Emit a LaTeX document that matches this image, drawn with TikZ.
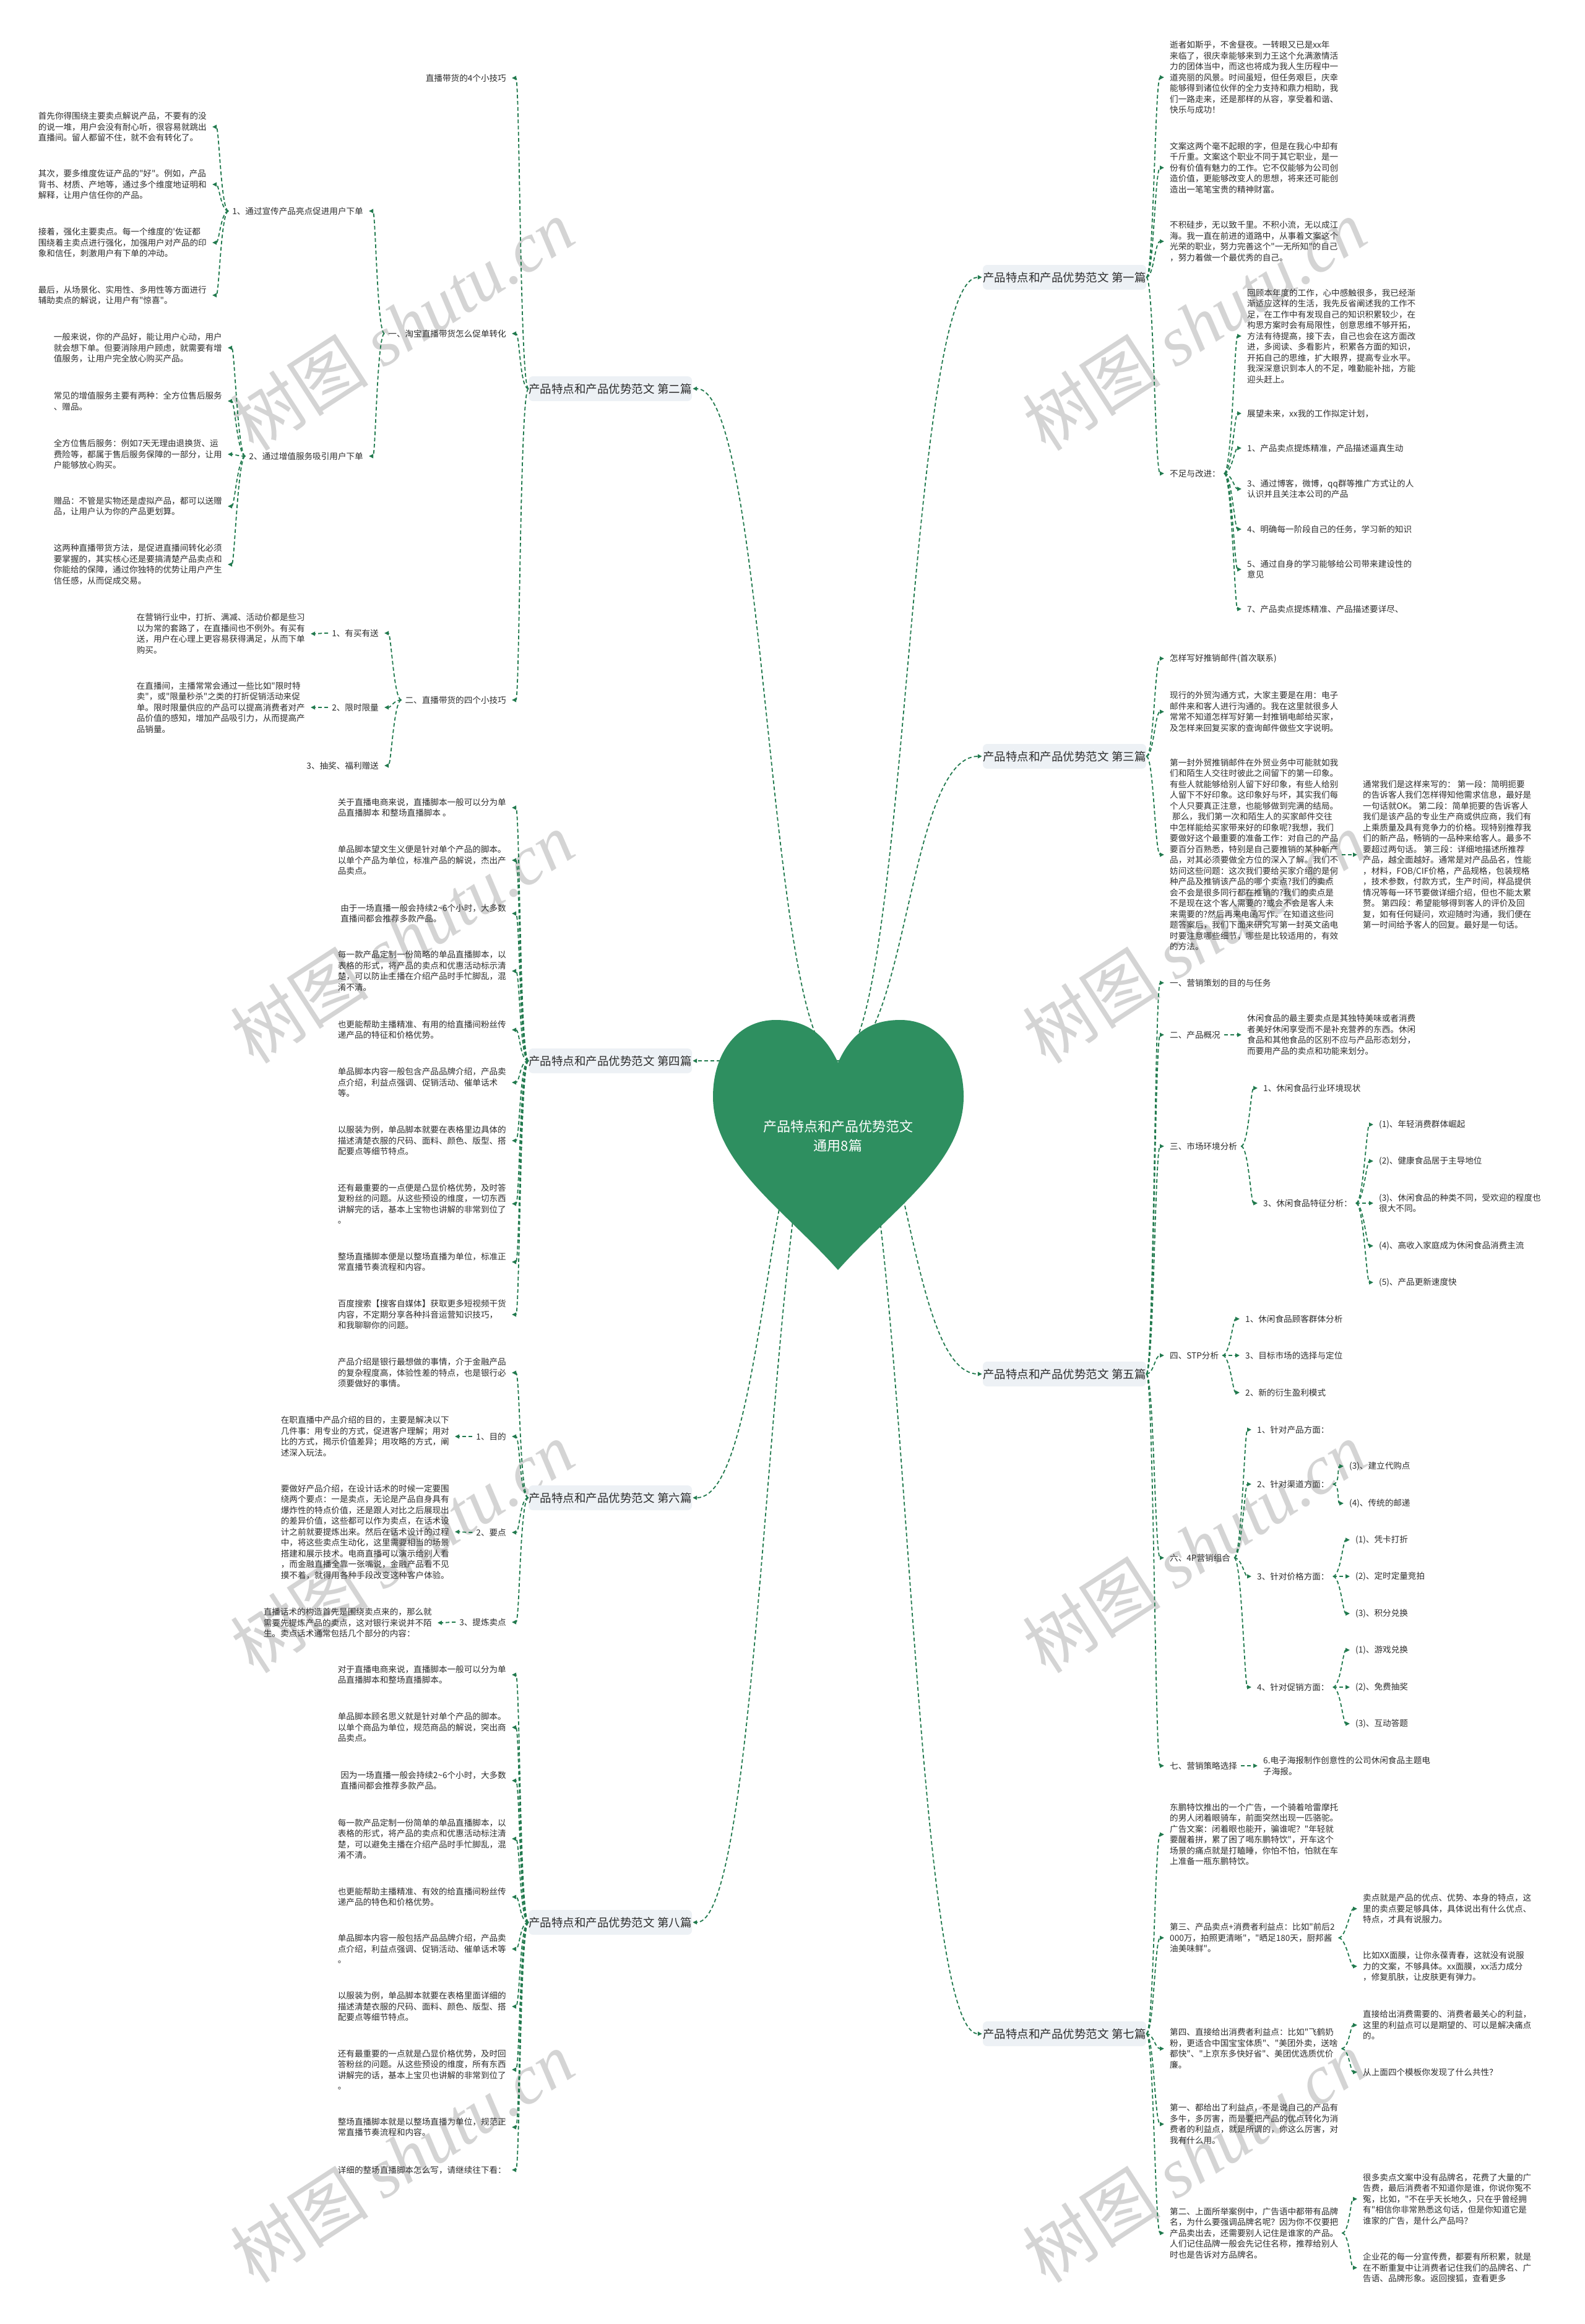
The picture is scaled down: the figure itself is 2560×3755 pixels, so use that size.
\documentclass[tikz,border=0pt]{standalone}
\usepackage{fontspec}
\newfontfamily\cjk{Noto Sans CJK SC}
\newfontfamily\wmserif{Liberation Serif}
\usetikzlibrary{arrows.meta}
\definecolor{heartc}{RGB}{46,143,96}
\definecolor{linec}{RGB}{33,122,78}
\definecolor{boxc}{RGB}{237,241,245}
\definecolor{txtc}{RGB}{45,45,45}
\definecolor{wmc}{RGB}{212,212,212}
\pgfdeclarelayer{wm}
\pgfdeclarelayer{bg}
\pgfsetlayers{wm,bg,main}
\begin{document}
\begin{tikzpicture}[x=1pt,y=-1pt,
  tx/.style={font=\cjk\fontsize{13.6}{17.5}\selectfont, text=txtc, align=left, inner xsep=0pt, inner ysep=1pt},
  tl/.style={tx, anchor=east},
  tr/.style={tx, anchor=west},
  bx/.style={font=\cjk\fontsize{18.5}{22}\selectfont, text=txtc, fill=boxc, rounded corners=7pt, minimum width=264pt, minimum height=40pt, inner sep=0pt},
  lnk/.style={draw=linec, line width=1.8pt, dash pattern=on 6pt off 4pt, -{Triangle[length=7pt,width=6.5pt]}},
  lk/.style={lnk, shorten >=9pt, shorten <=6pt, to path={(\tikztostart) .. controls ([xshift=-18pt]\tikztostart) and ([xshift=20pt]\tikztotarget) .. (\tikztotarget) \tikztonodes}},
  lkb/.style={lnk, shorten >=9pt, to path={(\tikztostart) .. controls ([xshift=-14pt]\tikztostart) and ([xshift=22pt]\tikztotarget) .. (\tikztotarget) \tikztonodes}},
  rk/.style={lnk, shorten >=9pt, shorten <=6pt, to path={(\tikztostart) .. controls ([xshift=18pt]\tikztostart) and ([xshift=-20pt]\tikztotarget) .. (\tikztotarget) \tikztonodes}},
  rkb/.style={lnk, shorten >=9pt, to path={(\tikztostart) .. controls ([xshift=12pt]\tikztostart) and ([xshift=-24pt]\tikztotarget) .. (\tikztotarget) \tikztonodes}},
  hkl/.style={lnk, shorten >=1pt, to path={(\tikztostart) .. controls ([xshift=-114pt]\tikztostart) and ([xshift=122pt]\tikztotarget) .. (\tikztotarget) \tikztonodes}},
  hkr/.style={lnk, shorten >=1pt, to path={(\tikztostart) .. controls ([xshift=112pt]\tikztostart) and ([xshift=-122pt]\tikztotarget) .. (\tikztotarget) \tikztonodes}},
  wm/.style={text=wmc, rotate=33, inner sep=0pt}
]
\useasboundingbox (0,0) rectangle (2560,3755);
\begin{pgfonlayer}{wm}
\fill[white] (0,0) rectangle (2560,3755);
\foreach \wx in {650,1930}{
  \foreach \wy in {525,1515,2500,3485}{
    \node[wm] at (\wx,\wy) {\cjk\fontsize{112}{114}\selectfont 树图 {\wmserif\itshape shutu.cn}};
  }
}
\end{pgfonlayer}

% ---------------- boxes ----------------
\node[bx] (b2) at (986,628) {产品特点和产品优势范文 第二篇};
\node[bx] (b4) at (986,1714) {产品特点和产品优势范文 第四篇};
\node[bx] (b6) at (986,2420) {产品特点和产品优势范文 第六篇};
\node[bx] (b8) at (986,3106) {产品特点和产品优势范文 第八篇};
\node[bx] (b1) at (1720,448) {产品特点和产品优势范文 第一篇};
\node[bx] (b3) at (1720,1222) {产品特点和产品优势范文 第三篇};
\node[bx] (b5) at (1720,2220) {产品特点和产品优势范文 第五篇};
\node[bx] (b7) at (1720,3286) {产品特点和产品优势范文 第七篇};

% ---------------- heart ----------------
\coordinate (hc) at (1354,1714);
\fill[heartc] (1354,1717) .. controls (1330,1664) and (1296,1648) .. (1253,1648)
 .. controls (1193,1648) and (1152,1700) .. (1152,1772)
 .. controls (1152,1880) and (1268,1955) .. (1354,2052)
 .. controls (1440,1955) and (1557,1880) .. (1557,1772)
 .. controls (1557,1700) and (1515,1648) .. (1455,1648)
 .. controls (1412,1648) and (1378,1664) .. (1354,1717) -- cycle;
\node[font=\cjk\fontsize{22}{31}\selectfont, text=white, align=center] (ht) at (1354,1836) {产品特点和产品优势范文\\通用8篇};

% ---------------- 第二篇 ----------------
\node[tl] (b2a) at (818,126) {直播带货的4个小技巧};
\node[tl] (b2b) at (818,539) {一、淘宝直播带货怎么促单转化};
\node[tl] (b2c) at (818,1131) {二、直播带货的四个小技巧};
\node[tl] (b2b1) at (587,341) {1、通过宣传产品亮点促进用户下单};
\node[tl] (b2b2) at (587,737) {2、通过增值服务吸引用户下单};
\node[tl] (a1) at (334,205) {首先你得围绕主要卖点解说产品，不要有的没\\的说一堆，用户会没有耐心听，很容易就跳出\\直播间。留人都留不住，就不会有转化了。};
\node[tl] (a2) at (334,298) {其次，要多维度佐证产品的"好"。例如，产品\\背书、材质、产地等，通过多个维度地证明和\\解释，让用户信任你的产品。};
\node[tl] (a3) at (334,392) {接着，强化主要卖点。每一个维度的'佐证都\\围绕着主卖点进行强化，加强用户对产品的印\\象和信任，刺激用户有下单的冲动。};
\node[tl] (a4) at (334,477) {最后，从场景化、实用性、多用性等方面进行\\辅助卖点的解说，让用户有"惊喜"。};
\node[tl] (c1) at (359,562) {一般来说，你的产品好，能让用户心动，用户\\就会想下单。但要消除用户顾虑，就需要有增\\值服务，让用户完全放心购买产品。};
\node[tl] (c2) at (359,648) {常见的增值服务主要有两种：全方位售后服务\\、赠品。};
\node[tl] (c3) at (359,734) {全方位售后服务：例如7天无理由退换货、运\\费险等，都属于售后服务保障的一部分，让用\\户能够放心购买。};
\node[tl] (c4) at (359,818) {赠品：不管是实物还是虚拟产品，都可以送赠\\品，让用户认为你的产品更划算。};
\node[tl] (c5) at (359,912) {这两种直播带货方法，是促进直播间转化必须\\要掌握的，其实核心还是要搞清楚产品卖点和\\你能给的保障，通过你独特的优势让用户产生\\信任感，从而促成交易。};
\node[tl] (b2c1) at (612,1023) {1、有买有送};
\node[tl] (b2c2) at (612,1143) {2、限时限量};
\node[tl] (b2c3) at (612,1237) {3、抽奖、福利赠送};
\node[tl] (d1) at (493,1024) {在营销行业中，打折、满减、活动价都是些习\\以为常的套路了，在直播间也不例外。有买有\\送，用户在心理上更容易获得满足，从而下单\\购买。};
\node[tl] (d2) at (493,1143) {在直播间，主播常常会通过一些比如"限时特\\卖"，或"限量秒杀"之类的打折促销活动来促\\单。限时限量供应的产品可以提高消费者对产\\品价值的感知，增加产品吸引力，从而提高产\\品销量。};

% ---------------- 第四篇 ----------------
\node[tl] (e1) at (818,1305) {关于直播电商来说，直播脚本一般可以分为单\\品直播脚本 和整场直播脚本 。};
\node[tl] (e2) at (818,1390) {单品脚本望文生义便是针对单个产品的脚本。\\以单个产品为单位，标准产品的解说，杰出产\\品卖点。};
\node[tl] (e3) at (818,1476) {由于一场直播一般会持续2\textasciitilde{}6个小时，大多数\\直播间都会推荐多款产品。};
\node[tl] (e4) at (818,1569) {每一款产品定制一份简略的单品直播脚本，以\\表格的形式，将产品的卖点和优惠活动标示清\\楚，可以防止主播在介绍产品时手忙脚乱，混\\淆不清。};
\node[tl] (e5) at (818,1664) {也更能帮助主播精准、有用的给直播间粉丝传\\递产品的特征和价格优势。};
\node[tl] (e6) at (818,1749) {单品脚本内容一般包含产品品牌介绍，产品卖\\点介绍，利益点强调、促销活动、催单话术\\等。};
\node[tl] (e7) at (818,1843) {以服装为例，单品脚本就要在表格里边具体的\\描述清楚衣服的尺码、面料、颜色、版型、搭\\配要点等细节特点。};
\node[tl] (e8) at (818,1945) {还有最重要的一点便是凸显价格优势，及时答\\复粉丝的问题。从这些预设的维度，一切东西\\讲解完的话，基本上宝物也讲解的非常到位了\\。};
\node[tl] (e9) at (818,2039) {整场直播脚本便是以整场直播为单位，标准正\\常直播节奏流程和内容。};
\node[tl] (e10) at (818,2124) {百度搜索【搜客自媒体】获取更多短视频干货\\内容，不定期分享各种抖音运营知识技巧，\\和我聊聊你的问题。};

% ---------------- 第六篇 ----------------
\node[tl] (f1) at (818,2218) {产品介绍是银行最想做的事情，介于金融产品\\的复杂程度高，体验性差的特点，也是银行必\\须要做好的事情。};
\node[tl] (f2) at (818,2321) {1、目的};
\node[tl] (f3) at (818,2476) {2、要点};
\node[tl] (f4) at (818,2621) {3、提炼卖点};
\node[tl] (f2a) at (726,2321) {在职直播中产品介绍的目的，主要是解决以下\\几件事：用专业的方式，促进客户理解；用对\\比的方式，揭示价值差异；用攻略的方式，阐\\述深入玩法。};
\node[tl] (f3a) at (726,2475) {要做好产品介绍，在设计话术的时候一定要围\\绕两个要点：一是卖点，无论是产品自身具有\\爆炸性的特点价值，还是跟人对比之后展现出\\的差异价值，这些都可以作为卖点，在话术设\\计之前就要提炼出来。然后在话术设计的过程\\中，将这些卖点生动化，这里需要相当的场景\\搭建和展示技术。电商直播可以演示给别人看\\，而金融直播全靠一张嘴说，金融产品看不见\\摸不着，就得用各种手段改变这种客户体验。};
\node[tl] (f4a) at (698,2622) {直播话术的构造首先是围绕卖点来的，那么就\\需要先提炼产品的卖点，这对银行来说并不陌\\生。卖点话术通常包括几个部分的内容：};

% ---------------- 第八篇 ----------------
\node[tl] (g1) at (818,2706) {对于直播电商来说，直播脚本一般可以分为单\\品直播脚本和整场直播脚本。};
\node[tl] (g2) at (818,2791) {单品脚本顾名思义就是针对单个产品的脚本。\\以单个商品为单位，规范商品的解说，突出商\\品卖点。};
\node[tl] (g3) at (818,2877) {因为一场直播一般会持续2\textasciitilde{}6个小时，大多数\\直播间都会推荐多款产品。};
\node[tl] (g4) at (818,2971) {每一款产品定制一份简单的单品直播脚本，以\\表格的形式，将产品的卖点和优惠活动标注清\\楚，可以避免主播在介绍产品时手忙脚乱，混\\淆不清。};
\node[tl] (g5) at (818,3065) {也更能帮助主播精准、有效的给直播间粉丝传\\递产品的特色和价格优势。};
\node[tl] (g6) at (818,3149) {单品脚本内容一般包括产品品牌介绍，产品卖\\点介绍，利益点强调、促销活动、催单话术等\\。};
\node[tl] (g7) at (818,3242) {以服装为例，单品脚本就要在表格里面详细的\\描述清楚衣服的尺码、面料、颜色、版型、搭\\配要点等细节特点。};
\node[tl] (g8) at (818,3344) {还有最重要的一点就是凸显价格优势，及时回\\答粉丝的问题。从这些预设的维度，所有东西\\讲解完的话，基本上宝贝也讲解的非常到位了\\。};
\node[tl] (g9) at (818,3437) {整场直播脚本就是以整场直播为单位，规范正\\常直播节奏流程和内容。};
\node[tl] (g10) at (818,3506) {详细的整场直播脚本怎么写，请继续往下看：};

% ---------------- 第一篇 ----------------
\node[tr] (h1) at (1890,125) {逝者如斯乎，不舍昼夜。一转眼又已是xx年\\来临了，很庆幸能够来到力王这个允满激情活\\力的团体当中，而这也将成为我人生历程中一\\道亮丽的风景。时间虽短，但任务艰巨，庆幸\\能够得到诸位伙伴的全力支持和鼎力相助，我\\们一路走来，还是那样的从容，享受着和谐、\\快乐与成功！};
\node[tr] (h2) at (1890,271) {文案这两个毫不起眼的字，但是在我心中却有\\千斤重。文案这个职业不同于其它职业，是一\\份有价值有魅力的工作。它不仅能够为公司创\\造价值，更能够改变人的思想，将来还可能创\\造出一笔笔宝贵的精神财富。};
\node[tr] (h3) at (1890,390) {不积硅步，无以致千里。不积小流，无以成江\\海。我一直在前进的道路中，从事着文案这个\\光荣的职业，努力完善这个"一无所知"的自己\\，努力着做一个最优秀的自己。};
\node[tr] (h4) at (1890,765) {不足与改进：};
\node[tr] (h4a) at (2015,543) {回顾本年度的工作，心中感触很多，我已经渐\\渐适应这样的生活，我先反省阐述我的工作不\\足，在工作中有发现自己的知识积累较少，在\\构思方案时会有局限性，创意思维不够开拓，\\方法有待提高，接下去，自己也会在这方面改\\进，多阅读、多看影片，积累各方面的知识，\\开拓自己的思维，扩大眼界，提高专业水平。\\我深深意识到本人的不足，唯勤能补拙，方能\\迎头赶上。};
\node[tr] (h4b) at (2015,668) {展望未来，xx我的工作拟定计划，};
\node[tr] (h4c) at (2015,724) {1、产品卖点提炼精准，产品描述逼真生动};
\node[tr] (h4d) at (2015,790) {3、通过博客，微博，qq群等推广方式让的人\\认识并且关注本公司的产品};
\node[tr] (h4e) at (2015,855) {4、明确每一阶段自己的任务，学习新的知识};
\node[tr] (h4f) at (2015,920) {5、通过自身的学习能够给公司带来建设性的\\意见};
\node[tr] (h4g) at (2015,984) {7、产品卖点提炼精准、产品描述要详尽、};

% ---------------- 第三篇 ----------------
\node[tr] (k1) at (1890,1064) {怎样写好推销邮件(首次联系)};
\node[tr] (k2) at (1890,1150) {现行的外贸沟通方式，大家主要是在用：电子\\邮件来和客人进行沟通的。我在这里就很多人\\常常不知道怎样写好第一封推销电邮给买家，\\及怎样来回复买家的查询邮件做些文字说明。};
\node[tr] (k3) at (1890,1381) {第一封外贸推销邮件在外贸业务中可能就如我\\们和陌生人交往时彼此之间留下的第一印象。\\有些人就能够给别人留下好印象，有些人给别\\人留下不好印象。这印象好与坏，其实我们每\\个人只要真正注意，也能够做到完满的结局。\\\hspace*{4pt}那么，我们第一次和陌生人的买家邮件交往\\中怎样能给买家带来好的印象呢?我想，我们\\要做好这个最重要的准备工作：对自己的产品\\要百分百熟悉，特别是自己要推销的某种新产\\品，对其必须要做全方位的深入了解。我们不\\妨问这些问题：这次我们要给买家介绍的是何\\种产品及推销该产品的哪个卖点?我们的卖点\\会不会是很多同行都在推销的?我们的卖点是\\不是现在这个客人需要的?或会不会是客人未\\来需要的?然后再来电函写作。在知道这些问\\题答案后，我们下面来研究写第一封英文函电\\时要注意哪些细节，哪些是比较适用的，有效\\的方法。};
\node[tr] (k3a) at (2202,1381) {通常我们是这样来写的： 第一段：简明扼要\\的告诉客人我们怎样得知他需求信息，最好是\\一句话就OK。 第二段：简单扼要的告诉客人\\我们是该产品的专业生产商或供应商，我们有\\上乘质量及具有竞争力的价格。现特别推荐我\\们的新产品，畅销的一品种来给客人。最多不\\要超过两句话。 第三段：详细地描述所推荐\\产品，越全面越好。通常是对产品品名，性能\\，材料，FOB/CIF价格，产品规格，包装规格\\，技术参数，付款方式，生产时间，样品提供\\情况等每一环节要做详细介绍，但也不能太累\\赘。 第四段：希望能够得到客人的评价及回\\复，如有任何疑问，欢迎随时沟通，我们便在\\第一时间给予客人的回复。最好是一句话。};

% ---------------- 第五篇 ----------------
\node[tr] (m1) at (1890,1588) {一、营销策划的目的与任务};
\node[tr] (m2) at (1890,1672) {二、产品概况};
\node[tr] (m2a) at (2015,1672) {休闲食品的最主要卖点是其独特美味或者消费\\者美好休闲享受而不是补充营养的东西。休闲\\食品和其他食品的区别不应与产品形态划分，\\而要用产品的卖点和功能来划分。};
\node[tr] (m3) at (1890,1852) {三、市场环境分析};
\node[tr] (m3a) at (2041,1758) {1、休闲食品行业环境现状};
\node[tr] (m3b) at (2041,1944) {3、休闲食品特征分析：};
\node[tr] (m3b1) at (2228,1817) {(1)、年轻消费群体崛起};
\node[tr] (m3b2) at (2228,1876) {(2)、健康食品居于主导地位};
\node[tr] (m3b3) at (2228,1944) {(3)、休闲食品的种类不同，受欢迎的程度也\\很大不同。};
\node[tr] (m3b4) at (2228,2013) {(4)、高收入家庭成为休闲食品消费主流};
\node[tr] (m3b5) at (2228,2072) {(5)、产品更新速度快};
\node[tr] (m4) at (1890,2190) {四、STP分析};
\node[tr] (m4a) at (2012,2131) {1、休闲食品顾客群体分析};
\node[tr] (m4b) at (2012,2190) {3、目标市场的选择与定位};
\node[tr] (m4c) at (2012,2250) {2、新的衍生盈利模式};
\node[tr] (m6) at (1890,2517) {六、4P营销组合};
\node[tr] (m6a) at (2031,2310) {1、针对产品方面：};
\node[tr] (m6b) at (2031,2398) {2、针对渠道方面：};
\node[tr] (m6b1) at (2180,2369) {(3)、建立代购点};
\node[tr] (m6b2) at (2180,2429) {(4)、传统的邮递};
\node[tr] (m6c) at (2031,2547) {3、针对价格方面：};
\node[tr] (m6c1) at (2190,2488) {(1)、凭卡打折};
\node[tr] (m6c2) at (2190,2547) {(2)、定时定量竞拍};
\node[tr] (m6c3) at (2190,2607) {(3)、积分兑换};
\node[tr] (m6d) at (2031,2726) {4、针对促销方面：};
\node[tr] (m6d1) at (2190,2666) {(1)、游戏兑换};
\node[tr] (m6d2) at (2190,2726) {(2)、免费抽奖};
\node[tr] (m6d3) at (2190,2785) {(3)、互动答题};
\node[tr] (m7) at (1890,2853) {七、营销策略选择};
\node[tr] (m7a) at (2041,2853) {6.电子海报制作创意性的公司休闲食品主题电\\子海报。};

% ---------------- 第七篇 ----------------
\node[tr] (n1) at (1890,2964) {东鹏特饮推出的一个广告，一个骑着哈雷摩托\\的男人闭着眼骑车，前面突然出现一匹骆驼。\\广告文案：闭着眼也能开，骗谁呢？"年轻就\\要醒着拼，累了困了喝东鹏特饮"，开车这个\\场景的痛点就是打瞌睡，你怕不怕，怕就在车\\上准备一瓶东鹏特饮。};
\node[tr] (n2) at (1890,3131) {第三、产品卖点+消费者利益点：比如"前后2\\000万，拍照更清晰"，"晒足180天，厨邦酱\\油美味鲜"。};
\node[tr] (n2a) at (2202,3084) {卖点就是产品的优点、优势、本身的特点，这\\里的卖点要足够具体，具体说出有什么优点、\\特点，才具有说服力。};
\node[tr] (n2b) at (2202,3177) {比如XX面膜，让你永葆青春，这就没有说服\\力的文案，不够具体。xx面膜，xx活力成分\\，修复肌肤，让皮肤更有弹力。};
\node[tr] (n3) at (1890,3310) {第四、直接给出消费者利益点：比如"飞鹤奶\\粉，更适合中国宝宝体质"、"美团外卖，送啥\\都快"、"上京东多快好省"、美团优选质优价\\廉。};
\node[tr] (n3a) at (2202,3272) {直接给出消费需要的、消费者最关心的利益，\\这里的利益点可以是期望的、可以是解决痛点\\的。};
\node[tr] (n3b) at (2202,3348) {从上面四个模板你发现了什么共性？};
\node[tr] (n4) at (1890,3432) {第一、都给出了利益点，不是说自己的产品有\\多牛，多厉害，而是要把产品的优点转化为消\\费者的利益点，就是所谓的，你这么厉害，对\\我有什么用。};
\node[tr] (n5) at (1890,3608) {第二、上面所举案例中，广告语中都带有品牌\\名，为什么要强调品牌名呢？因为你不仅要把\\产品卖出去，还需要别人记住是谁家的产品。\\人们记住品牌一般会先记住名称，推荐给别人\\时也是告诉对方品牌名。};
\node[tr] (n5a) at (2202,3553) {很多卖点文案中没有品牌名，花费了大量的广\\告费，最后消费者不知道你是谁，你说你冤不\\冤，比如，"不在乎天长地久，只在乎曾经拥\\有"相信你非常熟悉这句话，但是你知道它是\\谁家的广告，是什么产品吗？};
\node[tr] (n5b) at (2202,3664) {企业花的每一分宣传费，都要有所积累，就是\\在不断重复中让消费者记住我们的品牌名、广\\告语、品牌形象。返回搜狐，查看更多};

% ---------------- connectors ----------------
\begin{pgfonlayer}{bg}
\foreach \b in {b2,b4,b6,b8} \draw[hkl] (hc) to (\b.east);
\foreach \b in {b1,b3,b5,b7} \draw[hkr] (hc) to (\b.west);
\end{pgfonlayer}

\foreach \c in {b2a,b2b,b2c} \draw[lkb] (b2.west) to (\c.east);
\foreach \c in {b2b1,b2b2} \draw[lk] (b2b.west) to (\c.east);
\foreach \c in {a1,a2,a3,a4} \draw[lk] (b2b1.west) to (\c.east);
\foreach \c in {c1,c2,c3,c4,c5} \draw[lk] (b2b2.west) to (\c.east);
\foreach \c in {b2c1,b2c2,b2c3} \draw[lk] (b2c.west) to (\c.east);
\draw[lk] (b2c1.west) to (d1.east);
\draw[lk] (b2c2.west) to (d2.east);
\foreach \c in {e1,e2,e3,e4,e5,e6,e7,e8,e9,e10} \draw[lkb] (b4.west) to (\c.east);
\foreach \c in {f1,f2,f3,f4} \draw[lkb] (b6.west) to (\c.east);
\draw[lk] (f2.west) to (f2a.east);
\draw[lk] (f3.west) to (f3a.east);
\draw[lk] (f4.west) to (f4a.east);
\foreach \c in {g1,g2,g3,g4,g5,g6,g7,g8,g9,g10} \draw[lkb] (b8.west) to (\c.east);

\foreach \c in {h1,h2,h3,h4} \draw[rkb] (b1.east) to (\c.west);
\foreach \c in {h4a,h4b,h4c,h4d,h4e,h4f,h4g} \draw[rk] (h4.east) to (\c.west);
\foreach \c in {k1,k2,k3} \draw[rkb] (b3.east) to (\c.west);
\draw[rk] (k3.east) to (k3a.west);
\foreach \c in {m1,m2,m3,m4,m6,m7} \draw[rkb] (b5.east) to (\c.west);
\draw[rk] (m2.east) to (m2a.west);
\foreach \c in {m3a,m3b} \draw[rk] (m3.east) to (\c.west);
\foreach \c in {m3b1,m3b2,m3b3,m3b4,m3b5} \draw[rk] (m3b.east) to (\c.west);
\foreach \c in {m4a,m4b,m4c} \draw[rk] (m4.east) to (\c.west);
\foreach \c in {m6a,m6b,m6c,m6d} \draw[rk] (m6.east) to (\c.west);
\foreach \c in {m6b1,m6b2} \draw[rk] (m6b.east) to (\c.west);
\foreach \c in {m6c1,m6c2,m6c3} \draw[rk] (m6c.east) to (\c.west);
\foreach \c in {m6d1,m6d2,m6d3} \draw[rk] (m6d.east) to (\c.west);
\draw[rk] (m7.east) to (m7a.west);
\foreach \c in {n1,n2,n3,n4,n5} \draw[rkb] (b7.east) to (\c.west);
\foreach \c in {n2a,n2b} \draw[rk] (n2.east) to (\c.west);
\foreach \c in {n3a,n3b} \draw[rk] (n3.east) to (\c.west);
\foreach \c in {n5a,n5b} \draw[rk] (n5.east) to (\c.west);
\end{tikzpicture}
\end{document}
